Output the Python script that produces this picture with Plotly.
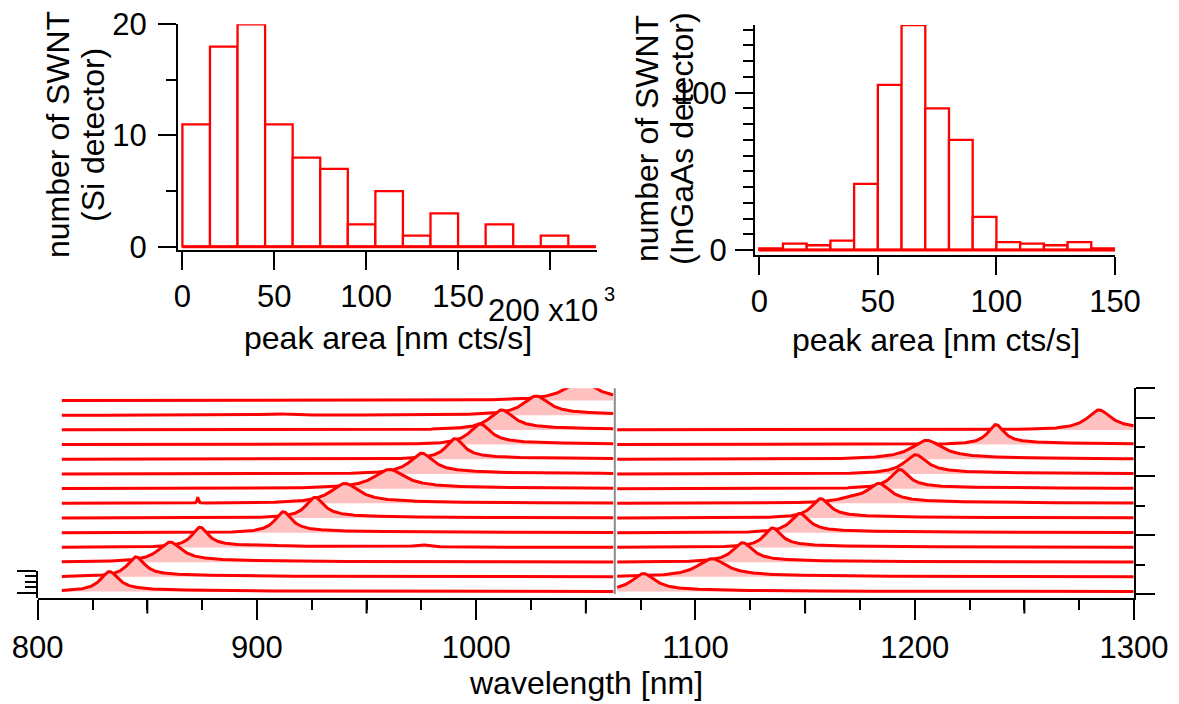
import numpy as np
import plotly.graph_objects as go

W, H = 1179, 704

# ---------------- histogram data ----------------
si_bin_start = 0.0
si_bin_width = 15.0
si_counts = [11, 18, 20, 11, 8, 7, 2, 5, 1, 3, 0, 2, 0, 1, 0]
si_xticks = [0, 50, 100, 150, 200]
si_xticklabels = ["0", "50", "100", "150", ""]
si_yticks = [0, 10, 20]
si_yminor = [5, 15]

ingaas_bin_start = 0.0
ingaas_bin_width = 10.0
ingaas_counts = [1, 4, 3, 6, 42, 105, 143, 90, 70, 21, 5, 4, 3, 5, 1]
ingaas_xticks = [0, 50, 100, 150]
ingaas_yticks = [0, 100]
ingaas_yminor = [10, 20, 30, 40, 50, 60, 70, 80, 90, 110, 120, 130, 140]

# ---------------- spectra data (peak parameters) ----------------
# level 0 = top trace, level 13 = bottom trace
si_levels = list(range(14))
si_centers = [1047.5, 1027.2, 1011.6, 1001.7, 990.3, 975.1, 960.3, 940.1,
              926.4, 912.0, 874.0, 860.3, 844.8, 832.7]
si_heights = [1.31, 1.31, 1.36, 1.41, 1.41, 1.41, 1.31, 1.36,
              1.41, 1.43, 1.38, 1.36, 1.36, 1.36]
si_fwhm = [17.0, 14.0, 13.0, 11.5, 10.0, 13.0, 17.0, 15.5,
           10.0, 9.5, 9.0, 13.0, 9.5, 10.0]
# small extra features: (level, center, height, fwhm)
si_extra = [(1, 908.0, 0.10, 15.0), (7, 873.0, 0.40, 0.7),
            (10, 975.0, 0.15, 8.0), (10, 905.0, 0.06, 14.0)]
si_range = (811.0, 1062.5)

ingaas_levels = list(range(2, 14))
ingaas_centers = [1284.0, 1237.0, 1205.4, 1200.3, 1193.2, 1183.6,
                  1157.1, 1147.6, 1135.2, 1121.5, 1107.4, 1076.2]
ingaas_heights = [1.36, 1.36, 1.29, 1.31, 1.31, 1.31,
                  1.32, 1.32, 1.33, 1.33, 1.24, 1.22]
ingaas_fwhm = [13.0, 9.0, 17.0, 12.5, 10.0, 12.5,
               10.0, 10.0, 9.5, 11.0, 16.0, 13.0]
ingaas_extra = [(7, 1171.0, 0.25, 14.0)]
ingaas_range = (1064.3, 1300.0)

wl_ticks = [800, 900, 1000, 1100, 1200, 1300]
wl_mid_ticks = [850, 950, 1050, 1150, 1250]
n_levels = 14
level_base = 0.17
tail_frac = 0.10
tail_decay = 60.0

# ---------------- helpers ----------------
def PX(x):
    return x / W


def PY(y):
    return 1 - y / H


def profile(x, c, h, w):
    lor = h / (1 + (2 * (x - c) / w) ** 2)
    step = 1 / (1 + np.exp(-(x - c) / (w / 2)))
    tail = tail_frac * h * step * np.exp(-np.clip(x - c, 0, None) / tail_decay)
    return lor * (1 - 0.5 * tail_frac) + tail


RED = "#ff0000"
PINK = "#ffc0c0"
FONT = "Liberation Sans, Arial, Helvetica, sans-serif"
FS = 31      # tick labels
FT = 32      # axis titles

fig = go.Figure()

# ---------------- histograms ----------------
si_mid = [si_bin_start + si_bin_width * (i + 0.5) for i in range(len(si_counts))]
fig.add_trace(go.Bar(x=si_mid, y=si_counts, width=si_bin_width,
                     marker=dict(color="white", line=dict(color=RED, width=2.3)),
                     xaxis="x", yaxis="y", showlegend=False, hoverinfo="skip"))
si_end = si_bin_start + si_bin_width * len(si_counts)
fig.add_trace(go.Scatter(x=[si_bin_start, si_end], y=[0, 0], mode="lines",
                         line=dict(color=RED, width=3), xaxis="x", yaxis="y",
                         showlegend=False, hoverinfo="skip"))

in_mid = [ingaas_bin_start + ingaas_bin_width * (i + 0.5) for i in range(len(ingaas_counts))]
fig.add_trace(go.Bar(x=in_mid, y=ingaas_counts, width=ingaas_bin_width,
                     marker=dict(color="white", line=dict(color=RED, width=2.3)),
                     xaxis="x2", yaxis="y2", showlegend=False, hoverinfo="skip"))
in_end = ingaas_bin_start + ingaas_bin_width * len(ingaas_counts)
fig.add_trace(go.Scatter(x=[ingaas_bin_start, in_end], y=[0, 0], mode="lines",
                         line=dict(color=RED, width=3), xaxis="x2", yaxis="y2",
                         showlegend=False, hoverinfo="skip"))

# ---------------- spectra (waterfall) ----------------
def add_spectra(levels, centers, heights, fwhm, extra, xr):
    x = np.arange(xr[0], xr[1] + 1e-9, 0.25)
    for k, lev in enumerate(levels):
        off = (n_levels - 1 - lev) + level_base
        y = profile(x, centers[k], heights[k], fwhm[k])
        for (el, ec, eh, ew) in extra:
            if el == lev:
                y = y + eh / (1 + (2 * (x - ec) / ew) ** 2)
        fig.add_trace(go.Scatter(x=x, y=np.full_like(x, off), mode="lines",
                                 line=dict(width=0, color=PINK),
                                 xaxis="x3", yaxis="y3", showlegend=False,
                                 hoverinfo="skip"))
        fig.add_trace(go.Scatter(x=x, y=y + off, mode="lines", fill="tonexty",
                                 fillcolor=PINK, line=dict(color=RED, width=3),
                                 xaxis="x3", yaxis="y3", showlegend=False,
                                 hoverinfo="skip"))


add_spectra(si_levels, si_centers, si_heights, si_fwhm, si_extra, si_range)
add_spectra(ingaas_levels, ingaas_centers, ingaas_heights, ingaas_fwhm,
            ingaas_extra, ingaas_range)

# dummy trace for the small left axis
fig.add_trace(go.Scatter(x=[None], y=[None], xaxis="x3", yaxis="y4",
                         showlegend=False, hoverinfo="skip"))

# ---------------- axes ----------------
axis_common = dict(showline=True, linewidth=2, linecolor="black", ticks="outside",
                   tickwidth=2, tickcolor="black", showgrid=False, zeroline=False,
                   tickfont=dict(family=FONT, size=FS, color="black"),
                   fixedrange=True, automargin=False)

fig.update_layout(
    template="none",
    xaxis=dict(axis_common, domain=[PX(178), PX(597)], range=[-2.4, 225.6],
               anchor="y", tickvals=si_xticks, ticktext=si_xticklabels,
               ticklen=18, ticklabelstandoff=0),
    yaxis=dict(axis_common, domain=[PY(250), PY(24.3)], range=[-0.3, 20.0],
               anchor="x", tickvals=si_yticks, ticklen=18, ticklabelstandoff=5,
               minor=dict(tickvals=si_yminor, ticklen=10, tickwidth=2,
                          tickcolor="black", ticks="outside")),
    xaxis2=dict(axis_common, domain=[PX(755), PX(1115)], range=[-1.8, 150.0],
                anchor="y2", tickvals=ingaas_xticks, ticklen=18,
                ticklabelstandoff=0),
    yaxis2=dict(axis_common, domain=[PY(255), PY(25)], range=[-3.2, 143.0],
                anchor="x2", tickvals=ingaas_yticks, ticklen=18,
                ticklabelstandoff=2,
                minor=dict(tickvals=ingaas_yminor, ticklen=10, tickwidth=2,
                           tickcolor="black", ticks="outside")),
    xaxis3=dict(axis_common, domain=[PX(37.7), PX(1134)], range=[800, 1300],
                anchor="y3", tickvals=wl_ticks, ticklen=20, ticklabelstandoff=0,
                minor=dict(dtick=25, tick0=800, ticklen=10, tickwidth=2,
                           tickcolor="black", ticks="outside")),
    yaxis3=dict(axis_common, domain=[PY(598.3), PY(388.3)], range=[-0.29, 14.0],
                anchor="x3", side="right", tickvals=[0, 4, 8, 12, 14], ticklen=19,
                showticklabels=False,
                minor=dict(tickvals=[2, 6, 10], ticklen=9, tickwidth=2,
                           tickcolor="black", ticks="outside")),
    yaxis4=dict(axis_common, domain=[PY(598.3), PY(571)], range=[-1.03, 4.0],
                anchor="x3", side="left", tickvals=[0, 4], ticklen=19,
                showticklabels=False,
                minor=dict(tickvals=[1, 2, 3], ticklen=11, tickwidth=2,
                           tickcolor="black", ticks="outside")),
)

# ---------------- shapes ----------------
shapes = []
for t in wl_mid_ticks:
    shapes.append(dict(type="line", xref="x3", yref="paper", x0=t, x1=t,
                       y0=PY(598.3), y1=PY(613.5),
                       line=dict(color="black", width=2)))
shapes.append(dict(type="line", xref="x3", yref="y3", x0=1063.2, x1=1063.2,
                   y0=0.0, y1=14.05, line=dict(color="#8c8c8c", width=2)))

# ---------------- annotations ----------------
def ann(text, x, y, size=FT, angle=0, xanchor="center", yanchor="middle"):
    return dict(text=text, x=PX(x), y=PY(y), xref="paper", yref="paper",
                showarrow=False, textangle=angle, xanchor=xanchor,
                yanchor=yanchor, font=dict(family=FONT, size=size, color="black"))


annotations = [
    ann("number of SWNT", 58, 135, angle=-90),
    ann("(Si detector)", 93, 135, angle=-90),
    ann("number of SWNT", 647, 139, angle=-90),
    ann("(InGaAs detector)", 682, 139, angle=-90),
    ann("peak area [nm cts/s]", 388, 338),
    ann("peak area [nm cts/s]", 936, 340),
    ann("wavelength [nm]", 586, 683),
    ann("200 x10", 486, 310.5, size=FS, xanchor="left"),
    ann("3", 602, 294, size=20, xanchor="left"),
]

fig.update_layout(
    width=W, height=H, autosize=False,
    margin=dict(l=0, r=0, t=0, b=0),
    paper_bgcolor="white", plot_bgcolor="rgba(0,0,0,0)",
    showlegend=False, barmode="overlay",
    font=dict(family=FONT, size=FS, color="black"),
    shapes=shapes, annotations=annotations,
)

fig.write_html("out.html",
               config={"displayModeBar": False, "staticPlot": True},
               post_script="document.body.style.margin='0px';"
                           "document.body.style.padding='0px';")
